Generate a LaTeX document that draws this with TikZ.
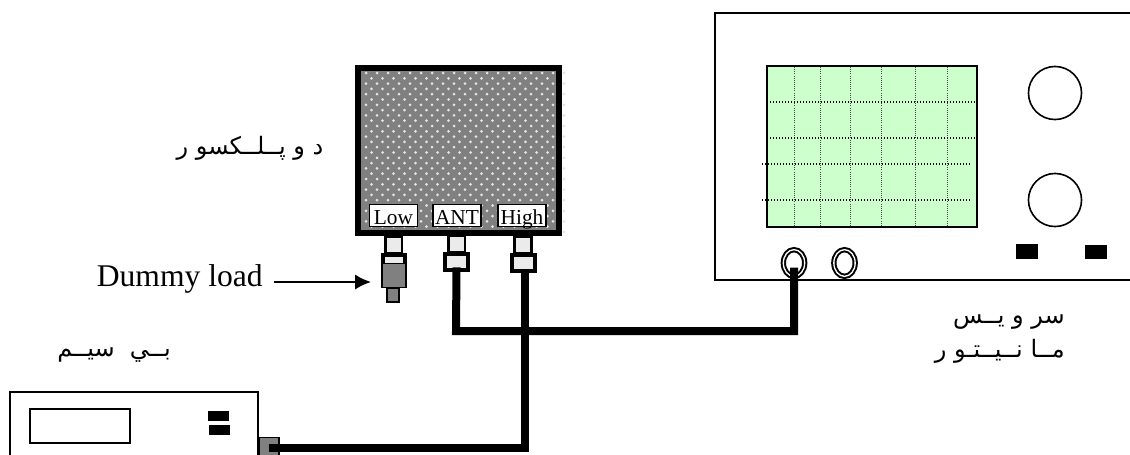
\documentclass[tikz,border=0pt]{standalone}
\usepackage{fontspec}
\setmainfont{Liberation Serif}
\newfontfamily\arabicfont[Script=Arabic]{DejaVu Sans}
\TeXXeTstate=1
\usetikzlibrary{positioning,arrows.meta,shapes.geometric}
\tikzset{
  >={Latex[length=12pt,width=11.5pt]},
  casing/.style={draw=black,line width=1.5pt},
  gridv/.style={black!70,line width=0.6pt,densely dotted},
  gridh/.style={black,line width=1pt,dash pattern=on 1pt off 1.25pt},
  knob/.style={circle,draw=black,line width=1.2pt,minimum size=39.8pt,inner sep=0pt},
  blackbtn/.style={fill=black,draw=none,minimum width=16.5pt,minimum height=11pt,inner sep=0pt},
  jack/.style={ellipse,draw=black,line width=1.5pt,double=white,double distance=1pt,
    minimum width=16pt,minimum height=20pt,inner sep=0pt},
  portlbl/.style={draw=black,fill=white,line width=1pt,font=\fontsize{16}{16}\selectfont,
    minimum width=36pt,minimum height=16.5pt,inner sep=0pt,text height=13pt,text depth=0pt},
  stem/.style={draw=black,fill=black!8,line width=2pt,minimum width=12.5pt,minimum height=13pt,inner sep=0pt},
  collar/.style={draw=black,fill=black!8,line width=3pt,minimum width=17pt,minimum height=12pt,inner sep=0pt},
  graybody/.style={draw=black,fill=black!50,line width=0.9pt,inner sep=0pt},
  cable/.style={line width=6pt,black},
  farsi/.style={font=\arabicfont\fontsize{18}{26}\selectfont,align=right,inner sep=0pt},
}
\begin{document}
\begin{tikzpicture}[x=0.75pt,y=-0.75pt]
  \useasboundingbox (0,0) rectangle (1130,454);
  % duplexer
  \fill[black!50] (358,68) rectangle (559,233);
  \foreach \i in {0,...,18} {
    \foreach \j in {0,...,15} {
      \fill[white!90!black] (366+11*\i,73+10.6*\j) circle (1.5);
      \ifnum\i<18 \ifnum\j<15 \fill[white!90!black] (371.5+11*\i,78.3+10.6*\j) circle (1.5); \fi\fi
    }
  }
  \draw[black,line width=4.5pt] (358,68) rectangle (559,233);
  \node[portlbl] (low) at (393.5,215.5) {Low};
  \node[portlbl] (ant) at (457,215.5) {ANT};
  \node[portlbl] (high) at (522,215.5) {High};
  % connectors on the duplexer
  \node[stem] (lowstem) at (393.5,245) {};
  \node[stem] (antstem) at (456.5,244) {};
  \node[stem] (highstem) at (523,245) {};
  \node[collar] (lowcol) at (394,262.5) {};
  \node[graybody,minimum width=18pt,minimum height=18.5pt] (lowbody) at (394,275.5) {};
  \node[graybody,minimum width=9pt,minimum height=10.5pt] (lowtip) at (393,295) {};
  \node[collar] (antcol) at (456.5,262) {};
  \node[collar] (highcol) at (523.5,263) {};
  % service monitor
  \draw[casing] (1135,13) -- (715,13) -- (715,280) -- (1135,280);
  \draw[black,line width=1.5pt,fill={rgb,255:red,204;green,255;blue,204}] (767,66) rectangle (977,227);
  \foreach \x in {794,820,850,881,915,947}
    \draw[gridv] (\x,67) -- (\x,226);
  \foreach \y/\a/\b in {102/767/975,138/767/975,164/762/970,200/762/970}
    \draw[gridh] (\a,\y) -- (\b,\y);
  \node[knob] (knoba) at (1055,93) {};
  \node[knob] (knobb) at (1055,200) {};
  \node[blackbtn] (btna) at (1027,251.5) {};
  \node[blackbtn] (btnb) at (1096,252) {};
  \node[jack] (jacka) at (794,263) {};
  \node[jack] (jackb) at (844.5,263) {};
  % radio
  \draw[casing] (10,460) -- (10,392) -- (258,392) -- (258,460);
  \draw[black,line width=1.2pt] (30,409) rectangle (130,443);
  \node[blackbtn,minimum width=16pt,minimum height=7.5pt] (radbtna) at (218.5,416) {};
  \node[blackbtn,minimum width=16pt,minimum height=7.5pt] (radbtnb) at (219.5,430) {};
  \node[graybody,minimum width=15pt,minimum height=16pt] (radport) at (269,448) {};
  % cables
  \coordinate (cablebend) at (456,331);
  \draw[cable,shorten >=3.5pt] ([yshift=3.5pt]antcol.south) -- (cablebend) -| (jacka.center);
  \draw[cable] ([xshift=1pt]highcol.south) |- (radport.center);
  % labels
  \node[font=\fontsize{23.7}{24}\selectfont,anchor=east,inner sep=0pt] (dummy) at (263,279) {Dummy load};
  \coordinate (arrowstart) at (274,282);
  \coordinate (arrowend) at (371,282);
  \draw[->,line width=1.5pt] (arrowstart) -- (arrowend);
  \node[farsi] (duplabel) at (250,148) {\beginR د و پــلــکسو ر\endR};
  \node[farsi] (radiolabel) at (114,355) {\beginR بــي \ سيــم\endR};
  \node[farsi,anchor=east] (scopelabel) at (1065,339) {\beginR سر و يــس\endR\\\beginR مــا نــيــتـو ر\endR};
\end{tikzpicture}
\end{document}
